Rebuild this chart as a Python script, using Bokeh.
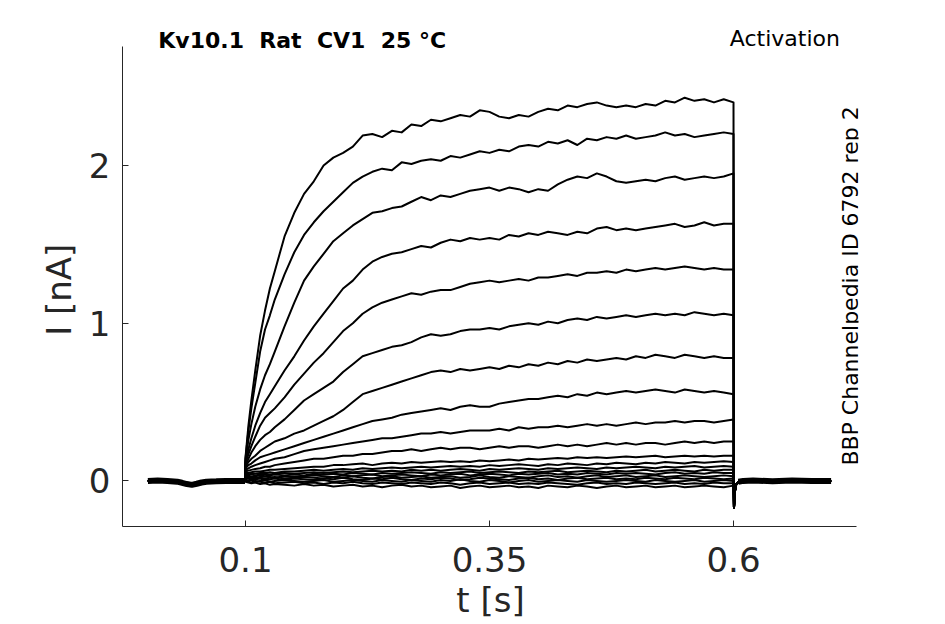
import math
from bokeh.plotting import figure
from bokeh.models import Range1d, FixedTicker, Label
from bokeh.embed import file_html
from bokeh.resources import INLINE

# ---- time axes (s) ----
pre_t = [0.000, 0.010, 0.020, 0.030, 0.035, 0.040, 0.045, 0.050, 0.055, 0.060, 0.070, 0.080, 0.090, 0.0995]
pre_i = [0.0, 0.003, 0.0, -0.005, -0.012, -0.02, -0.025, -0.018, -0.01, -0.005, -0.003, 0.0, 0.0, 0.0]

pulse_t = [0.100, 0.103, 0.106, 0.110, 0.115, 0.120, 0.125, 0.130, 0.140, 0.150, 0.160,
           0.170, 0.180, 0.190, 0.200, 0.210, 0.220, 0.230, 0.240, 0.250, 0.260, 0.270,
           0.280, 0.290, 0.300, 0.310, 0.320, 0.330, 0.340, 0.350, 0.360, 0.370, 0.380,
           0.390, 0.400, 0.410, 0.420, 0.430, 0.440, 0.450, 0.460, 0.470, 0.480, 0.490,
           0.500, 0.510, 0.520, 0.530, 0.540, 0.550, 0.560, 0.570, 0.580, 0.590, 0.600]

post_t = [0.6005, 0.601, 0.602, 0.603, 0.605, 0.610, 0.620, 0.640, 0.660, 0.680, 0.700]
post_i = [-0.17, -0.09, -0.04, -0.02, -0.005, 0.0, 0.002, -0.002, 0.002, 0.0, 0.0]

# ---- current traces during the pulse (nA) ----
trace01 = [0.15, 0.35, 0.51, 0.70, 0.92, 1.08, 1.22, 1.33, 1.55, 1.70, 1.82,
           1.90, 2.00, 2.05, 2.08, 2.12, 2.19, 2.20, 2.18, 2.22, 2.21, 2.26,
           2.25, 2.29, 2.28, 2.30, 2.32, 2.31, 2.35, 2.34, 2.31, 2.30, 2.32,
           2.31, 2.34, 2.36, 2.35, 2.38, 2.37, 2.39, 2.40, 2.38, 2.37, 2.38,
           2.37, 2.39, 2.38, 2.41, 2.40, 2.43, 2.41, 2.42, 2.40, 2.42, 2.40]
trace02 = [0.14, 0.32, 0.46, 0.62, 0.82, 0.96, 1.05, 1.15, 1.31, 1.45, 1.56,
           1.64, 1.71, 1.77, 1.83, 1.89, 1.93, 1.96, 1.98, 1.97, 2.02, 2.01,
           2.03, 2.04, 2.03, 2.06, 2.05, 2.07, 2.09, 2.08, 2.10, 2.09, 2.12,
           2.13, 2.12, 2.15, 2.14, 2.16, 2.13, 2.17, 2.16, 2.18, 2.17, 2.19,
           2.17, 2.18, 2.19, 2.21, 2.19, 2.20, 2.18, 2.19, 2.20, 2.21, 2.20]
trace03 = [0.13, 0.26, 0.36, 0.47, 0.58, 0.67, 0.74, 0.82, 0.98, 1.13, 1.27,
           1.36, 1.44, 1.52, 1.57, 1.62, 1.66, 1.70, 1.71, 1.73, 1.74, 1.77,
           1.80, 1.78, 1.81, 1.80, 1.82, 1.84, 1.85, 1.86, 1.84, 1.86, 1.85,
           1.83, 1.85, 1.84, 1.88, 1.91, 1.93, 1.92, 1.95, 1.93, 1.90, 1.89,
           1.90, 1.91, 1.90, 1.92, 1.93, 1.91, 1.92, 1.93, 1.92, 1.93, 1.95]
trace04 = [0.12, 0.20, 0.27, 0.35, 0.43, 0.50, 0.55, 0.60, 0.70, 0.79, 0.89,
           0.98, 1.06, 1.14, 1.22, 1.27, 1.34, 1.39, 1.42, 1.44, 1.45, 1.47,
           1.49, 1.48, 1.51, 1.53, 1.52, 1.54, 1.53, 1.54, 1.53, 1.56, 1.55,
           1.57, 1.56, 1.58, 1.57, 1.56, 1.58, 1.57, 1.60, 1.61, 1.59, 1.60,
           1.59, 1.60, 1.61, 1.62, 1.63, 1.61, 1.62, 1.64, 1.62, 1.63, 1.63]
trace05 = [0.11, 0.17, 0.22, 0.28, 0.35, 0.40, 0.43, 0.46, 0.53, 0.61, 0.68,
           0.75, 0.81, 0.88, 0.95, 1.00, 1.06, 1.10, 1.13, 1.15, 1.17, 1.19,
           1.18, 1.20, 1.21, 1.21, 1.23, 1.25, 1.26, 1.27, 1.26, 1.27, 1.28,
           1.27, 1.29, 1.29, 1.30, 1.31, 1.30, 1.32, 1.32, 1.33, 1.32, 1.34,
           1.33, 1.34, 1.35, 1.34, 1.35, 1.36, 1.35, 1.34, 1.35, 1.34, 1.34]
trace06 = [0.10, 0.14, 0.18, 0.22, 0.26, 0.29, 0.31, 0.34, 0.39, 0.45, 0.51,
           0.55, 0.59, 0.63, 0.69, 0.74, 0.79, 0.81, 0.83, 0.85, 0.86, 0.88,
           0.91, 0.93, 0.92, 0.93, 0.95, 0.96, 0.96, 0.97, 0.96, 0.98, 0.99,
           1.00, 0.99, 1.01, 1.00, 1.02, 1.03, 1.02, 1.04, 1.03, 1.04, 1.05,
           1.04, 1.05, 1.06, 1.05, 1.06, 1.05, 1.07, 1.06, 1.05, 1.06, 1.05]
trace07 = [0.09, 0.12, 0.14, 0.16, 0.19, 0.21, 0.23, 0.25, 0.27, 0.30, 0.32,
           0.35, 0.38, 0.41, 0.45, 0.50, 0.55, 0.57, 0.59, 0.61, 0.63, 0.65,
           0.67, 0.69, 0.70, 0.69, 0.71, 0.70, 0.71, 0.72, 0.71, 0.73, 0.72,
           0.74, 0.73, 0.75, 0.74, 0.76, 0.75, 0.77, 0.76, 0.77, 0.78, 0.77,
           0.79, 0.78, 0.80, 0.79, 0.78, 0.80, 0.79, 0.78, 0.79, 0.78, 0.78]
trace08 = [0.08, 0.10, 0.11, 0.13, 0.15, 0.16, 0.17, 0.18, 0.20, 0.22, 0.24,
           0.26, 0.28, 0.30, 0.32, 0.34, 0.36, 0.38, 0.39, 0.40, 0.42, 0.43,
           0.44, 0.45, 0.46, 0.45, 0.47, 0.48, 0.47, 0.47, 0.49, 0.50, 0.51,
           0.52, 0.52, 0.53, 0.54, 0.53, 0.55, 0.54, 0.56, 0.55, 0.56, 0.57,
           0.56, 0.57, 0.58, 0.57, 0.56, 0.58, 0.57, 0.56, 0.57, 0.56, 0.55]
trace09 = [0.07, 0.08, 0.09, 0.10, 0.11, 0.12, 0.13, 0.14, 0.15, 0.17, 0.19,
           0.20, 0.21, 0.22, 0.23, 0.24, 0.25, 0.26, 0.27, 0.27, 0.28, 0.29,
           0.30, 0.30, 0.31, 0.30, 0.31, 0.32, 0.32, 0.32, 0.33, 0.32, 0.34,
           0.33, 0.34, 0.34, 0.35, 0.34, 0.35, 0.36, 0.35, 0.36, 0.35, 0.36,
           0.37, 0.36, 0.37, 0.37, 0.38, 0.37, 0.38, 0.38, 0.37, 0.38, 0.39]
trace10 = [0.06, 0.065, 0.07, 0.075, 0.08, 0.09, 0.09, 0.10, 0.11, 0.12, 0.13,
           0.14, 0.14, 0.15, 0.16, 0.16, 0.17, 0.17, 0.18, 0.19, 0.19, 0.20,
           0.19, 0.20, 0.21, 0.20, 0.21, 0.21, 0.20, 0.21, 0.22, 0.21, 0.22,
           0.22, 0.21, 0.22, 0.23, 0.22, 0.23, 0.22, 0.23, 0.24, 0.23, 0.24,
           0.23, 0.24, 0.24, 0.23, 0.24, 0.25, 0.24, 0.25, 0.24, 0.25, 0.25]
trace11 = [0.05, 0.05, 0.055, 0.06, 0.06, 0.065, 0.07, 0.07, 0.075, 0.08, 0.085,
           0.09, 0.09, 0.10, 0.10, 0.105, 0.11, 0.10, 0.11, 0.115, 0.11, 0.12,
           0.115, 0.12, 0.125, 0.12, 0.125, 0.12, 0.13, 0.125, 0.13, 0.135, 0.13,
           0.14, 0.135, 0.14, 0.145, 0.14, 0.15, 0.145, 0.15, 0.145, 0.15, 0.155,
           0.15, 0.155, 0.16, 0.15, 0.155, 0.16, 0.155, 0.16, 0.155, 0.16, 0.16]
trace12 = [0.04, 0.04, 0.045, 0.045, 0.05, 0.05, 0.055, 0.05, 0.06, 0.06, 0.065,
           0.07, 0.065, 0.07, 0.075, 0.07, 0.08, 0.075, 0.08, 0.085, 0.08, 0.085,
           0.09, 0.085, 0.09, 0.095, 0.09, 0.095, 0.09, 0.10, 0.095, 0.10, 0.105,
           0.10, 0.095, 0.105, 0.10, 0.11, 0.105, 0.10, 0.11, 0.105, 0.115, 0.11,
           0.105, 0.115, 0.11, 0.12, 0.115, 0.11, 0.12, 0.115, 0.12, 0.125, 0.12]
trace13 = [0.035, 0.035, 0.04, 0.035, 0.04, 0.045, 0.04, 0.045, 0.05, 0.045, 0.05,
           0.055, 0.05, 0.055, 0.06, 0.055, 0.06, 0.065, 0.06, 0.065, 0.06, 0.07,
           0.065, 0.07, 0.065, 0.07, 0.075, 0.07, 0.065, 0.075, 0.07, 0.075, 0.08,
           0.075, 0.07, 0.08, 0.075, 0.08, 0.085, 0.08, 0.075, 0.085, 0.08, 0.085,
           0.09, 0.085, 0.08, 0.09, 0.085, 0.09, 0.095, 0.085, 0.09, 0.095, 0.09]
trace14 = [0.03, 0.03, 0.025, 0.03, 0.035, 0.03, 0.035, 0.04, 0.035, 0.04, 0.035,
           0.045, 0.04, 0.045, 0.04, 0.05, 0.045, 0.04, 0.05, 0.045, 0.05, 0.055,
           0.05, 0.045, 0.055, 0.05, 0.055, 0.06, 0.05, 0.055, 0.06, 0.055, 0.05,
           0.06, 0.055, 0.06, 0.065, 0.055, 0.06, 0.065, 0.06, 0.055, 0.065, 0.06,
           0.065, 0.07, 0.06, 0.065, 0.07, 0.065, 0.06, 0.07, 0.065, 0.07, 0.07]
trace15 = [0.025, 0.02, 0.025, 0.02, 0.025, 0.03, 0.025, 0.02, 0.03, 0.025, 0.03,
           0.035, 0.03, 0.025, 0.035, 0.03, 0.035, 0.04, 0.03, 0.035, 0.04, 0.035,
           0.03, 0.04, 0.035, 0.04, 0.045, 0.035, 0.04, 0.045, 0.04, 0.035, 0.045,
           0.04, 0.045, 0.05, 0.04, 0.045, 0.04, 0.05, 0.045, 0.04, 0.05, 0.045,
           0.05, 0.045, 0.04, 0.05, 0.055, 0.045, 0.05, 0.045, 0.055, 0.05, 0.05]
trace16 = [0.02, 0.015, 0.02, 0.01, 0.02, 0.015, 0.02, 0.025, 0.015, 0.02, 0.025,
           0.02, 0.015, 0.025, 0.02, 0.03, 0.02, 0.015, 0.025, 0.03, 0.02, 0.025,
           0.03, 0.02, 0.025, 0.03, 0.02, 0.025, 0.035, 0.025, 0.02, 0.03, 0.025,
           0.02, 0.03, 0.035, 0.025, 0.03, 0.02, 0.03, 0.035, 0.025, 0.03, 0.035,
           0.025, 0.03, 0.035, 0.025, 0.03, 0.035, 0.03, 0.025, 0.03, 0.035, 0.03]
trace17 = [0.01, 0.015, 0.005, 0.01, 0.015, 0.005, 0.01, 0.015, 0.005, 0.015, 0.01,
           0.005, 0.015, 0.01, 0.02, 0.01, 0.005, 0.015, 0.01, 0.02, 0.01, 0.005,
           0.015, 0.01, 0.02, 0.015, 0.005, 0.01, 0.02, 0.015, 0.01, 0.005, 0.015,
           0.02, 0.01, 0.015, 0.005, 0.015, 0.02, 0.01, 0.015, 0.02, 0.01, 0.015,
           0.01, 0.02, 0.015, 0.01, 0.02, 0.015, 0.01, 0.02, 0.015, 0.01, 0.015]
trace18 = [0.005, 0.0, 0.005, -0.005, 0.0, 0.005, -0.005, 0.0, 0.005, 0.0, -0.005,
           0.0, 0.005, -0.005, 0.0, 0.005, 0.0, -0.005, 0.005, 0.0, -0.005, 0.005,
           0.0, -0.005, 0.005, 0.0, 0.01, 0.0, -0.005, 0.005, 0.0, -0.01, 0.0,
           0.005, -0.005, 0.0, 0.005, 0.0, -0.005, 0.005, 0.0, -0.005, 0.0, 0.005,
           0.0, -0.005, 0.005, 0.0, -0.005, 0.0, 0.005, -0.005, 0.0, 0.005, 0.0]
trace19 = [0.0, -0.005, -0.01, 0.0, -0.005, -0.01, -0.005, -0.015, -0.01, -0.005, -0.015,
           -0.01, -0.02, -0.01, -0.015, -0.005, -0.015, -0.02, -0.01, -0.015, -0.02, -0.01,
           -0.015, -0.02, -0.01, -0.015, -0.025, -0.015, -0.01, -0.02, -0.015, -0.01, -0.02,
           -0.015, -0.02, -0.01, -0.015, -0.02, -0.025, -0.015, -0.01, -0.02, -0.015, -0.02,
           -0.01, -0.015, -0.02, -0.015, -0.01, -0.02, -0.015, -0.02, -0.01, -0.015, -0.015]
trace20 = [-0.005, -0.01, -0.015, -0.01, -0.02, -0.015, -0.025, -0.02, -0.025, -0.03, -0.02,
           -0.03, -0.025, -0.035, -0.03, -0.025, -0.035, -0.03, -0.04, -0.03, -0.025, -0.035,
           -0.03, -0.04, -0.035, -0.03, -0.045, -0.035, -0.03, -0.04, -0.035, -0.03, -0.04,
           -0.035, -0.045, -0.03, -0.035, -0.04, -0.03, -0.035, -0.045, -0.035, -0.03, -0.04,
           -0.035, -0.03, -0.04, -0.035, -0.03, -0.04, -0.035, -0.03, -0.035, -0.04, -0.03]

traces = [trace01, trace02, trace03, trace04, trace05, trace06, trace07, trace08, trace09, trace10,
          trace11, trace12, trace13, trace14, trace15, trace16, trace17, trace18, trace19, trace20]

xtick_vals = [0.1, 0.35, 0.6]
xtick_labels = ["0.1", "0.35", "0.6"]
ytick_vals = [0, 1, 2]
ytick_labels = ["0", "1", "2"]

title_text = "Kv10.1\u00a0 Rat\u00a0 CV1\u00a0 25 °C"
protocol_text = "Activation"
source_text = "BBP Channelpedia ID 6792 rep 2"
xlabel_text = "t [s]"
# trailing no-break spaces centre the visible label on the drawn spine, not the taller frame
ylabel_text = "I [nA]\u00a0\u00a0\u00a0"

FONT = "DejaVu Sans"
AX = "#262626"

# axis extents (where the drawn spines stop) and the taller plotting frame
x_axis_span = (-0.026, 0.726)
y_axis_span = (-0.2892, 2.7546)

p = figure(width=945, height=624, output_backend="svg", toolbar_location=None,
           x_range=Range1d(-0.02602, 0.72807), y_range=Range1d(-0.2892, 2.9195),
           min_border=0, min_border_left=122, min_border_right=87,
           min_border_top=20, min_border_bottom=98)
p.title.visible = False
p.outline_line_color = None
p.grid.visible = False
p.background_fill_color = "white"
p.border_fill_color = "white"

xs = [pre_t + pulse_t + post_t for _ in traces]
ys = [pre_i + tr + post_i for tr in traces]
p.multi_line(xs, ys, line_color="black", line_width=2.0, line_join="round")
# dense overlapping holding-current band before / after the pulse
p.line(pre_t, pre_i, line_color="black", line_width=6)
p.line(post_t[4:], post_i[4:], line_color="black", line_width=6)

p.xaxis.ticker = FixedTicker(ticks=xtick_vals)
p.xaxis.major_label_overrides = {v: s for v, s in zip(xtick_vals, xtick_labels)}
p.yaxis.ticker = FixedTicker(ticks=ytick_vals)
p.yaxis.major_label_overrides = {v: s for v, s in zip(ytick_vals, ytick_labels)}
p.xaxis.bounds = x_axis_span
p.yaxis.bounds = y_axis_span
p.xaxis.axis_label = xlabel_text
p.yaxis.axis_label = ylabel_text
for ax in (p.xaxis[0], p.yaxis[0]):
    ax.axis_line_color = AX
    ax.axis_line_width = 1
    ax.major_tick_line_color = AX
    ax.major_tick_in = 6
    ax.major_tick_out = 0
    ax.minor_tick_line_color = None
    ax.major_label_text_font = FONT
    ax.major_label_text_font_size = "34px"
    ax.major_label_text_color = AX
    ax.axis_label_text_font = FONT
    ax.axis_label_text_font_size = "34px"
    ax.axis_label_text_font_style = "normal"
    ax.axis_label_text_color = AX
p.xaxis.major_label_standoff = 20
p.xaxis.axis_label_standoff = 5
p.yaxis.major_label_standoff = 12
p.yaxis.axis_label_standoff = 7

def lab(**kw):
    base = dict(text_font=FONT, text_color="black")
    base.update(kw)
    p.add_layout(Label(**base))

lab(x=0.01066, y=2.791, text=title_text, text_align="left", text_baseline="alphabetic",
    text_font_size="22px", text_font_style="bold")
lab(x=0.7091, y=2.803, text=protocol_text, text_align="right", text_baseline="alphabetic",
    text_font_size="22px")
lab(x=0.7194, y=1.236, text=source_text, angle=math.pi / 2, text_align="center",
    text_baseline="middle", text_font_size="22px")

open("out.html", "w").write(file_html(p, INLINE))
